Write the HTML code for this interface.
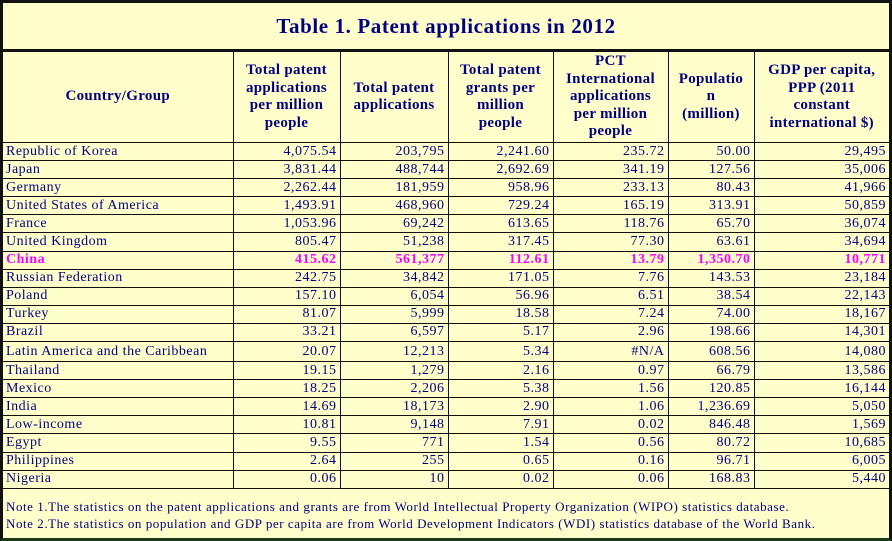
<!DOCTYPE html>
<html><head><style>
html,body{margin:0;padding:0;background:#fff;}
#w{position:absolute;left:0;top:0;width:886px;height:535px;border:3px solid #111;border-bottom-color:#1a3a1a;background:#FFFFCC;font-family:"Liberation Serif",serif;color:#000080;overflow:hidden}
#t{height:46px;border-bottom:3px solid #111;text-align:center;font-weight:bold;font-size:21px;line-height:46px;letter-spacing:0.6px}
table{border-collapse:collapse;table-layout:fixed;width:886px;position:absolute;left:0;top:49px}
td{border:1px solid #111;padding:0 3px;font-size:14px;height:17.1px;line-height:16px;text-align:right;white-space:nowrap;overflow:hidden;letter-spacing:0.5px}
td:first-child{text-align:left;border-left:none}
td:last-child{border-right:none}
tr.h td{height:90px;font-weight:bold;text-align:center;font-size:15px;line-height:17.5px;border-top:none;letter-spacing:0.3px}
tr.c td{color:#FF00FF;font-weight:bold}
tr.l td{height:19px}
#n{position:absolute;left:3px;top:495px;font-size:13px;line-height:17px;letter-spacing:0.55px}
</style></head><body><div id="w">
<div id="t">Table 1. Patent applications in 2012</div>
<table>
<colgroup><col style="width:230px"><col style="width:107px"><col style="width:108px"><col style="width:105px"><col style="width:115px"><col style="width:86px"><col style="width:135px"></colgroup>
<tr class="h"><td style="text-align:center">Country/Group</td><td>Total patent<br>applications<br>per million<br>people</td><td>Total patent<br>applications</td><td>Total patent<br>grants per<br>million<br>people</td><td>PCT<br>International<br>applications<br>per million<br>people</td><td>Populatio<br>n<br>(million)</td><td>GDP per capita,<br>PPP (2011<br>constant<br>international $)</td></tr>
<tr><td>Republic of Korea</td><td>4,075.54</td><td>203,795</td><td>2,241.60</td><td>235.72</td><td>50.00</td><td>29,495</td></tr>
<tr><td>Japan</td><td>3,831.44</td><td>488,744</td><td>2,692.69</td><td>341.19</td><td>127.56</td><td>35,006</td></tr>
<tr><td>Germany</td><td>2,262.44</td><td>181,959</td><td>958.96</td><td>233.13</td><td>80.43</td><td>41,966</td></tr>
<tr><td>United States of America</td><td>1,493.91</td><td>468,960</td><td>729.24</td><td>165.19</td><td>313.91</td><td>50,859</td></tr>
<tr><td>France</td><td>1,053.96</td><td>69,242</td><td>613.65</td><td>118.76</td><td>65.70</td><td>36,074</td></tr>
<tr><td>United Kingdom</td><td>805.47</td><td>51,238</td><td>317.45</td><td>77.30</td><td>63.61</td><td>34,694</td></tr>
<tr class="c"><td>China</td><td>415.62</td><td>561,377</td><td>112.61</td><td>13.79</td><td>1,350.70</td><td>10,771</td></tr>
<tr><td>Russian Federation</td><td>242.75</td><td>34,842</td><td>171.05</td><td>7.76</td><td>143.53</td><td>23,184</td></tr>
<tr><td>Poland</td><td>157.10</td><td>6,054</td><td>56.96</td><td>6.51</td><td>38.54</td><td>22,143</td></tr>
<tr><td>Turkey</td><td>81.07</td><td>5,999</td><td>18.58</td><td>7.24</td><td>74.00</td><td>18,167</td></tr>
<tr><td>Brazil</td><td>33.21</td><td>6,597</td><td>5.17</td><td>2.96</td><td>198.66</td><td>14,301</td></tr>
<tr class="l"><td>Latin America and the Caribbean</td><td>20.07</td><td>12,213</td><td>5.34</td><td>#N/A</td><td>608.56</td><td>14,080</td></tr>
<tr><td>Thailand</td><td>19.15</td><td>1,279</td><td>2.16</td><td>0.97</td><td>66.79</td><td>13,586</td></tr>
<tr><td>Mexico</td><td>18.25</td><td>2,206</td><td>5.38</td><td>1.56</td><td>120.85</td><td>16,144</td></tr>
<tr><td>India</td><td>14.69</td><td>18,173</td><td>2.90</td><td>1.06</td><td>1,236.69</td><td>5,050</td></tr>
<tr><td>Low-income</td><td>10.81</td><td>9,148</td><td>7.91</td><td>0.02</td><td>846.48</td><td>1,569</td></tr>
<tr><td>Egypt</td><td>9.55</td><td>771</td><td>1.54</td><td>0.56</td><td>80.72</td><td>10,685</td></tr>
<tr><td>Philippines</td><td>2.64</td><td>255</td><td>0.65</td><td>0.16</td><td>96.71</td><td>6,005</td></tr>
<tr><td>Nigeria</td><td>0.06</td><td>10</td><td>0.02</td><td>0.06</td><td>168.83</td><td>5,440</td></tr>
</table>
<div id="n">Note 1.The statistics on the patent applications and grants are from World Intellectual Property Organization (WIPO) statistics database.<br>Note 2.The statistics on population and GDP per capita are from World Development Indicators (WDI) statistics database of the World Bank.</div>
</div></body></html>
